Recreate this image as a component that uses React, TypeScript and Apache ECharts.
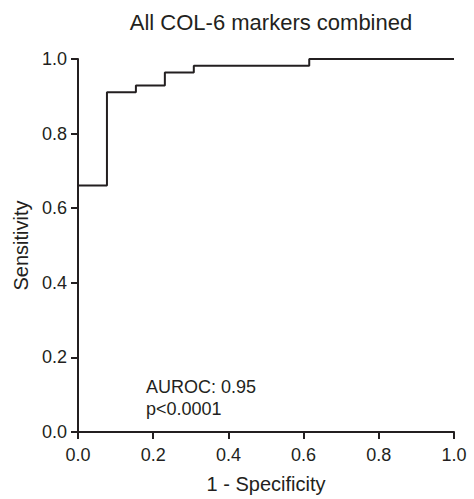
import React, { useEffect, useRef } from "react";
import * as echarts from "echarts";

const titleText = "All COL-6 markers combined";
const xName = "1 - Specificity";
const yName = "Sensitivity";
const fpr = [0, 0, 0.077, 0.154, 0.231, 0.308, 0.615, 1.0];
const tpr = [0, 0.661, 0.911, 0.929, 0.964, 0.982, 1.0, 1.0];
const annotations = ["AUROC: 0.95", "p<0.0001"];

const FONT = "'Liberation Sans', Arial, Helvetica, sans-serif";
const INK = "#231f20";

export default function App() {
  const ref = useRef<HTMLDivElement>(null);
  useEffect(() => {
    document.body.style.margin = "0";
    if (!ref.current) return;
    const chart = echarts.init(ref.current, undefined, { renderer: "svg" });
    const axisCommon = {
      type: "value" as const,
      min: 0,
      max: 1,
      interval: 0.2,
      nameLocation: "middle" as const,
      nameTextStyle: { fontFamily: FONT, fontSize: 20, color: INK },
      axisLine: { show: true, lineStyle: { color: INK, width: 2 } },
      axisTick: { show: true, length: 7, lineStyle: { color: INK, width: 2 } },
      axisLabel: {
        fontFamily: FONT,
        fontSize: 18,
        color: INK,
        formatter: (v: number) => v.toFixed(1),
      },
      splitLine: { show: false },
    };
    chart.setOption({
      animation: false,
      title: {
        text: titleText,
        left: 266,
        top: 6,
        textAlign: "center",
        textStyle: { fontFamily: FONT, fontSize: 22, fontWeight: "normal", color: INK },
      },
      grid: { left: 78, right: 20, top: 59, bottom: 64, containLabel: false },
      xAxis: {
        ...axisCommon,
        name: xName,
        nameGap: 42,
        axisLabel: { ...axisCommon.axisLabel, margin: 14 },
      },
      yAxis: {
        ...axisCommon,
        name: yName,
        nameGap: 44,
        axisLabel: { ...axisCommon.axisLabel, margin: 11 },
      },
      graphic: annotations.map((t, i) => ({
        type: "text",
        left: 146,
        top: 378 + i * 21.7,
        style: { text: t, font: `18px ${FONT}`, fill: INK },
      })),
      series: [
        {
          type: "line",
          step: "end",
          showSymbol: false,
          data: fpr.map((x, i) => [x, tpr[i]]),
          lineStyle: { color: INK, width: 2 },
        },
      ],
    });
    return () => chart.dispose();
  }, []);
  return <div ref={ref} style={{ width: 474, height: 499 }} />;
}
